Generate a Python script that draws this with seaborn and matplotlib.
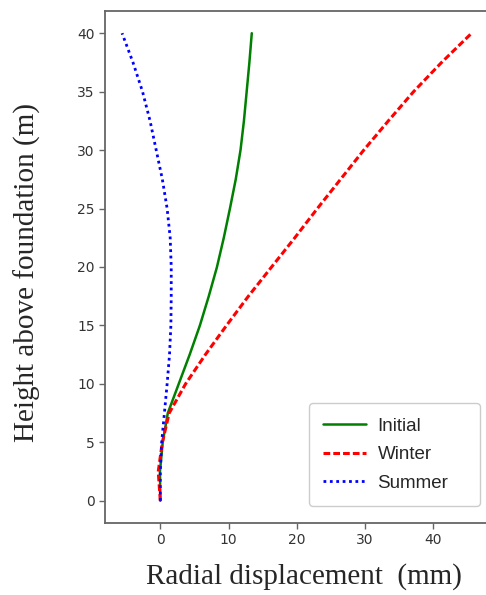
import numpy as np
import pandas as pd
import seaborn as sns
import matplotlib.pyplot as plt

# heights above foundation (m) and radial displacement (mm)
height = [0, 2.5, 5, 7.5, 10, 12.5, 15, 17.5, 20, 22.5, 25, 27.5, 30, 32.5, 35, 37.5, 40]
initial = [0.0, -0.05, 0.35, 1.1, 2.7, 4.3, 5.8, 7.1, 8.3, 9.3, 10.2, 11.05, 11.75, 12.25, 12.65, 13.05, 13.4]
winter = [0.0, -0.3, 0.3, 1.3, 3.7, 6.6, 9.7, 12.9, 16.3, 19.7, 23.0, 26.4, 29.8, 33.4, 37.1, 41.2, 45.6]
summer = [0.0, 0.0, 0.2, 0.6, 1.0, 1.35, 1.55, 1.6, 1.6, 1.45, 1.0, 0.3, -0.6, -1.5, -2.6, -4.0, -5.6]
cases = ["Initial", "Winter", "Summer"]

df = pd.concat([
    pd.DataFrame({"height": height, "disp": vals, "case": name})
    for name, vals in zip(cases, [initial, winter, summer])
])

sns.set_theme(style="white")
plt.rcParams["font.family"] = ["DejaVu Sans"]

fig = plt.figure(figsize=(4.86, 5.95), dpi=100)
ax = fig.add_axes([105 / 486, 1 - 523 / 595, 383 / 486, 512 / 595])

colors = {"Initial": "green", "Winter": "red", "Summer": "blue"}
dashes = {"Initial": "", "Winter": (2.2, 1.0), "Summer": (1, 1.3)}
widths = {"Initial": 1.8, "Winter": 2.2, "Summer": 2.0}

for name in cases:
    sub = df[df["case"] == name]
    sns.lineplot(data=sub, x="disp", y="height", color=colors[name], label=name,
                 orient="y", sort=True, lw=widths[name], ax=ax)
    if dashes[name]:
        ax.lines[-1].set_dashes(dashes[name])

ax.set_xticks([0, 10, 20, 30, 40])
ax.set_yticks(range(0, 41, 5))
ax.set_xlim(-8.1, 48.0)
ax.set_ylim(-1.9, 41.9)

for s in ax.spines.values():
    s.set_color("#666666")
    s.set_linewidth(1.3)
ax.tick_params(axis="both", direction="out", length=4, width=1, color="#666666",
               labelsize=10, labelcolor="#333333", left=True, bottom=True)

serif = ["Liberation Serif", "DejaVu Serif"]
ax.set_xlabel("Radial displacement  (mm)", fontsize=21, family=serif)
ax.set_ylabel("Height above foundation (m)", fontsize=21, family=serif)
ax.xaxis.set_label_coords((304 - 105) / 383, -(563 - 523) / 512)
ax.yaxis.set_label_coords(-(105 - 41) / 383, (523 - 272) / 512)

leg = ax.legend(loc="lower left", bbox_to_anchor=(0.533, 0.033, 0.446, 0.2),
                mode="expand", borderaxespad=0,
                prop={"family": ["Liberation Sans"], "size": 13.5},
                handlelength=2.3, handletextpad=0.6, frameon=True, fancybox=True,
                framealpha=1, edgecolor="#cccccc", borderpad=0.75, labelspacing=0.62)
leg.get_frame().set_linewidth(1.0)

fig.savefig("out.png", dpi=100)
